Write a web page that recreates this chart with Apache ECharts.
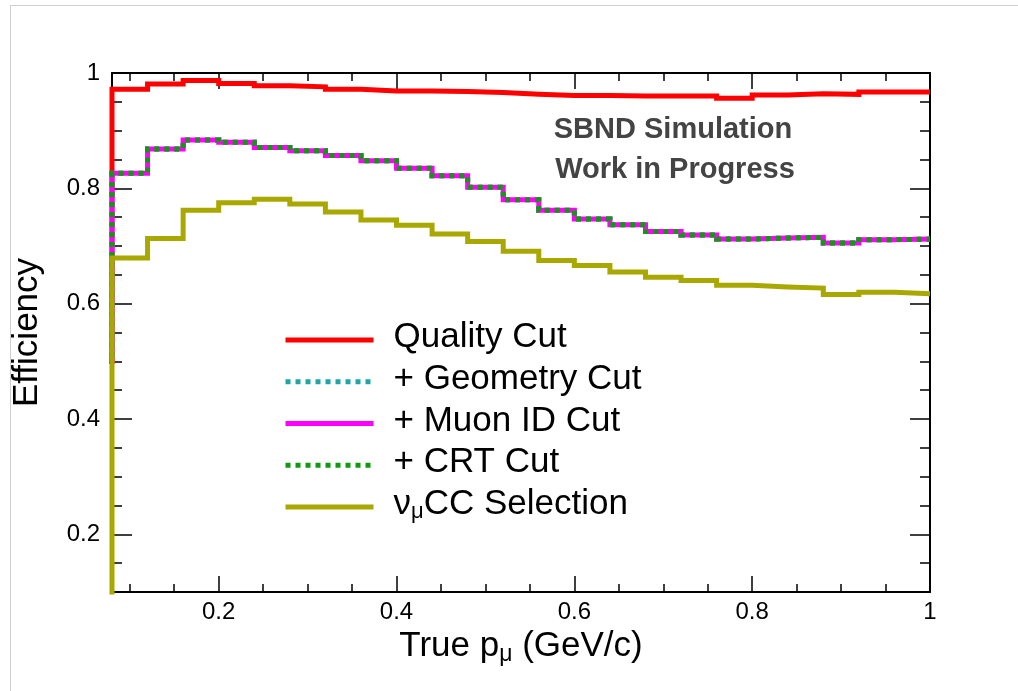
<!DOCTYPE html>
<html><head><meta charset="utf-8">
<script src="https://cdn.jsdelivr.net/npm/echarts@6/dist/echarts.min.js"></script>
<style>html,body{margin:0;padding:0;background:#fff}#c{width:1018px;height:691px}</style>
</head><body><div id="c"></div>
<script>
// ---- data (bin lower edges; first bin lies below the visible range) ----
const binLow = [0.04, 0.08, 0.12, 0.16, 0.20, 0.24, 0.28, 0.32, 0.36, 0.40, 0.44, 0.48,
                0.52, 0.56, 0.60, 0.64, 0.68, 0.72, 0.76, 0.80, 0.84, 0.88, 0.92, 0.96];
const lastEdge = 1.0;
const qualityCut = [0.50, 0.972, 0.981, 0.987, 0.982, 0.978, 0.976, 0.972, 0.969, 0.969, 0.968, 0.966,
                    0.963, 0.961, 0.961, 0.960, 0.960, 0.960, 0.956, 0.962, 0.964, 0.963, 0.967, 0.967];
const geometryCut = [0.50, 0.826, 0.868, 0.884, 0.880, 0.871, 0.865, 0.857, 0.848, 0.835, 0.822, 0.802,
                     0.780, 0.762, 0.747, 0.737, 0.725, 0.719, 0.712, 0.714, 0.715, 0.705, 0.711, 0.712];
const muonIdCut = [0.50, 0.826, 0.868, 0.884, 0.880, 0.871, 0.865, 0.857, 0.848, 0.835, 0.822, 0.802,
                   0.780, 0.762, 0.747, 0.737, 0.725, 0.719, 0.712, 0.714, 0.715, 0.705, 0.711, 0.712];
const crtCut = [0.50, 0.826, 0.868, 0.884, 0.880, 0.871, 0.865, 0.857, 0.848, 0.835, 0.822, 0.802,
                0.780, 0.762, 0.747, 0.737, 0.725, 0.719, 0.712, 0.714, 0.715, 0.705, 0.711, 0.712];
const numuCC = [0.05, 0.679, 0.713, 0.762, 0.775, 0.781, 0.773, 0.759, 0.745, 0.736, 0.721, 0.708,
                0.691, 0.675, 0.666, 0.655, 0.646, 0.640, 0.632, 0.629, 0.627, 0.616, 0.620, 0.617];
const seriesNames = ['Quality Cut', '+ Geometry Cut', '+ Muon ID Cut', '+ CRT Cut', 'numuCC'];
const xMajorTicks = [0.2, 0.4, 0.6, 0.8, 1.0];
const xMinorTicks = [0.1, 0.15, 0.25, 0.3, 0.35, 0.45, 0.5, 0.55, 0.65, 0.7, 0.75, 0.85, 0.9, 0.95];
const yMajorTicks = [0.2, 0.4, 0.6, 0.8, 1.0];
const yMinorTicks = [0.15, 0.25, 0.3, 0.35, 0.45, 0.5, 0.55, 0.65, 0.7, 0.75, 0.85, 0.9, 0.95];
const X_MIN = 0.08, X_MAX = 1.0, Y_MIN = 0.1, Y_MAX = 1.0;

// ---- helpers ----
const FONT = '"Liberation Sans", Arial, Helvetica, sans-serif';
const fmt = v => (Math.abs(v - 1) < 1e-9 ? '1' : (+v).toFixed(1));
const hist = vals => binLow.map((x, i) => [x, vals[i]]).concat([[lastEdge, vals[vals.length - 1]]]);

function mkAxis(kind, pos, ticks, len, main, labelTicks) {
  const a = {
    type: 'value', position: pos,
    min: kind === 'x' ? X_MIN : Y_MIN, max: kind === 'x' ? X_MAX : Y_MAX,
    axisLine: { show: main, onZero: false, lineStyle: { color: '#000', width: 2 } },
    axisTick: { show: true, inside: true, length: len, customValues: ticks, lineStyle: { color: '#000', width: 1.5 } },
    axisLabel: { show: !!labelTicks },
    splitLine: { show: false }, minorTick: { show: false }, minorSplitLine: { show: false }
  };
  if (labelTicks) {
    a.axisLabel = { show: true, customValues: labelTicks, formatter: fmt, fontSize: 24, color: '#000',
                    fontFamily: FONT, margin: kind === 'x' ? 8 : 12 };
  }
  return a;
}

function rich(size, sub) {
  return {
    a: { fontSize: size, fontFamily: FONT, color: '#000', lineHeight: 40, verticalAlign: 'top' },
    b: { fontSize: size, fontFamily: FONT, color: '#000', lineHeight: 40, verticalAlign: 'top', padding: [0, 0, 0, 15] },
    s: { fontSize: sub, fontFamily: FONT, color: '#000', lineHeight: 26, verticalAlign: 'top', padding: [14, 0, 0, 0] }
  };
}

const xMain = mkAxis('x', 'bottom', xMajorTicks, 16, true, xMajorTicks);
xMain.name = '{a|True p}{s|μ}{a| (GeV/c)}';
xMain.nameLocation = 'middle';
xMain.nameGap = 22;
xMain.nameTextStyle = { rich: rich(35, 23) };
const yMain = mkAxis('y', 'left', yMajorTicks, 20, true, yMajorTicks);
yMain.name = 'Efficiency';
yMain.nameLocation = 'middle';
yMain.nameRotate = 90;
yMain.nameGap = 67;
yMain.nameTextStyle = { fontSize: 35, fontFamily: FONT, color: '#000' };

const lineCommon = { type: 'line', step: 'end', symbol: 'none', showSymbol: false, animation: false,
                     xAxisIndex: 0, yAxisIndex: 0 };
const colors = { red: '#ff0000', cyan: '#1ea6a6', magenta: '#ff00ff', green: '#119a11', olive: '#a8a800' };
const DOT = [5, 5];

const option = {
  backgroundColor: '#ffffff',
  animation: false,
  grid: { left: 112, right: 88, top: 73, bottom: 99, containLabel: false },
  xAxis: [xMain,
          mkAxis('x', 'bottom', xMinorTicks, 8, false),
          mkAxis('x', 'top', xMajorTicks, 16, true),
          mkAxis('x', 'top', xMinorTicks, 8, false)],
  yAxis: [yMain,
          mkAxis('y', 'left', yMinorTicks, 10, false),
          mkAxis('y', 'right', yMajorTicks, 20, true),
          mkAxis('y', 'right', yMinorTicks, 10, false)],
  legend: {
    orient: 'vertical', left: 283, top: 320, padding: 0,
    itemWidth: 88, itemHeight: 2, itemGap: 6.75,
    selectedMode: false,
    lineStyle: { width: 5 },
    data: seriesNames,
    formatter: n => n === 'numuCC' ? '{b|ν}{s|μ}{a|CC Selection}' : '{b|' + n + '}',
    textStyle: { rich: rich(35, 22) }
  },
  series: [
    Object.assign({}, lineCommon, { name: seriesNames[0], data: hist(qualityCut),
      lineStyle: { color: colors.red, width: 5, cap: 'butt', join: 'miter' }, itemStyle: { color: colors.red } }),
    Object.assign({}, lineCommon, { name: seriesNames[1], data: hist(geometryCut),
      lineStyle: { color: colors.cyan, width: 5, type: DOT, cap: 'butt', join: 'miter' }, itemStyle: { color: colors.cyan } }),
    Object.assign({}, lineCommon, { name: seriesNames[2], data: hist(muonIdCut),
      lineStyle: { color: colors.magenta, width: 5, cap: 'butt', join: 'miter' }, itemStyle: { color: colors.magenta } }),
    Object.assign({}, lineCommon, { name: seriesNames[3], data: hist(crtCut),
      lineStyle: { color: colors.green, width: 5, type: DOT, cap: 'butt', join: 'miter' }, itemStyle: { color: colors.green } }),
    Object.assign({}, lineCommon, { name: seriesNames[4], data: hist(numuCC),
      lineStyle: { color: colors.olive, width: 5, cap: 'butt', join: 'miter' }, itemStyle: { color: colors.olive } })
  ],
  graphic: [
    { type: 'line', shape: { x1: 10, y1: 5.5, x2: 1018, y2: 5.5 }, style: { stroke: '#cfcfcf', lineWidth: 1 }, silent: true },
    { type: 'line', shape: { x1: 10.5, y1: 5, x2: 10.5, y2: 691 }, style: { stroke: '#cfcfcf', lineWidth: 1 }, silent: true },
    { type: 'text', x: 673, y: 130, style: { text: 'SBND Simulation', fill: '#444444',
      font: 'bold 29px ' + FONT, textAlign: 'center', textVerticalAlign: 'middle' }, z: 10 },
    { type: 'text', x: 675, y: 170, style: { text: 'Work in Progress', fill: '#444444',
      font: 'bold 29px ' + FONT, textAlign: 'center', textVerticalAlign: 'middle' }, z: 10 }
  ]
};

const chart = echarts.init(document.getElementById('c'), null, { renderer: 'canvas' });
chart.setOption(option);
</script>
</body></html>
